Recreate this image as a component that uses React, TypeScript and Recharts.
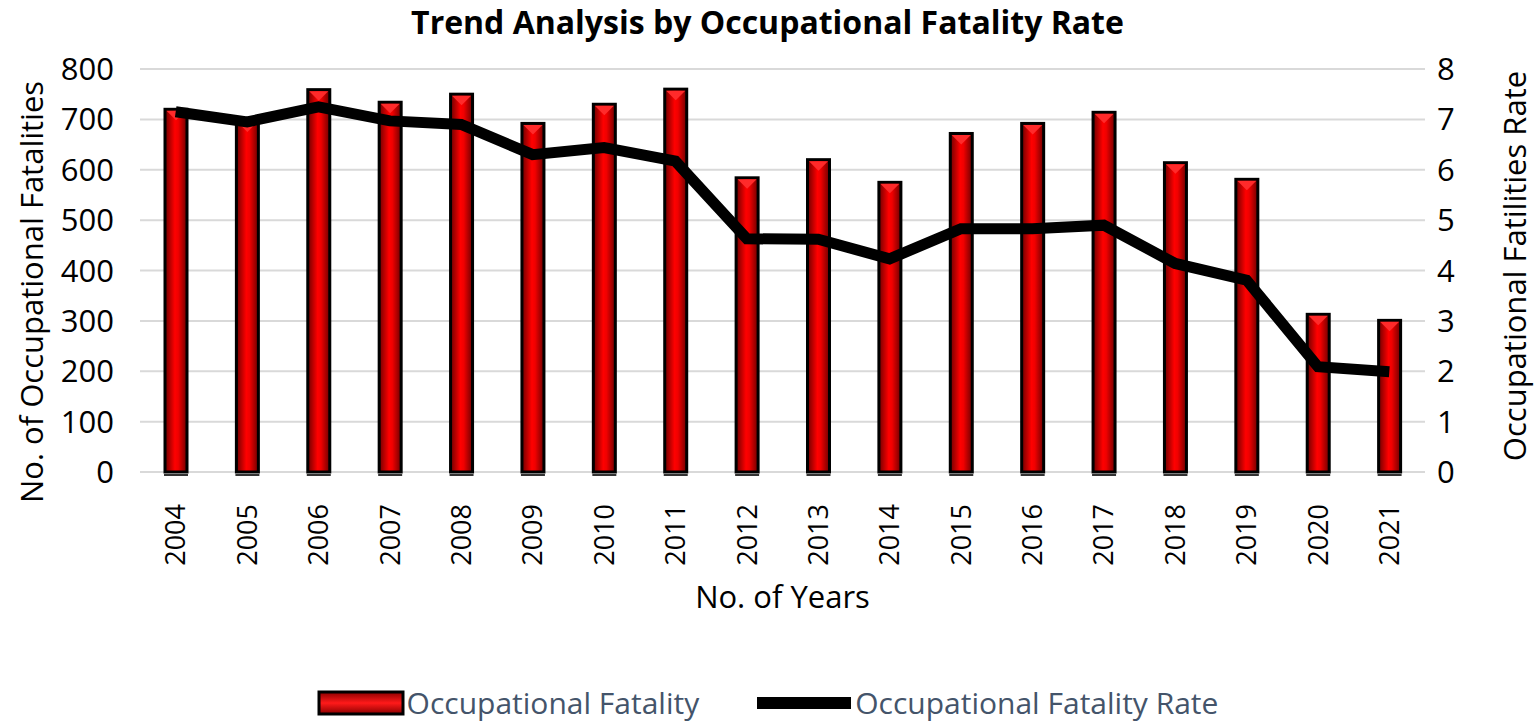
import { Bar, CartesianGrid, ComposedChart, Legend, Line, XAxis, YAxis } from "recharts";

const YEARS = ["2004", "2005", "2006", "2007", "2008", "2009", "2010", "2011", "2012", "2013", "2014", "2015", "2016", "2017", "2018", "2019", "2020", "2021"];
const FATALITIES = [720, 697, 759, 734, 750, 692, 730, 760, 584, 620, 575, 672, 692, 714, 614, 581, 313, 301];
const RATES = [7.15, 6.95, 7.25, 6.97, 6.9, 6.3, 6.44, 6.17, 4.63, 4.62, 4.23, 4.83, 4.83, 4.9, 4.14, 3.81, 2.09, 1.99];
const LEFT_TICKS = [0, 100, 200, 300, 400, 500, 600, 700, 800];
const RIGHT_TICKS = [0, 1, 2, 3, 4, 5, 6, 7, 8];

const data = YEARS.map((year, i) => ({ year, fatalities: FATALITIES[i], rate: RATES[i] }));

const FONT = "'Open Sans', 'Noto Sans', sans-serif";

function BevelBar(props: any) {
  const { x, y, width, height } = props;
  if (!height) return null;
  const t = Math.min(width / 2, height);
  return (
    <g>
      <rect x={x} y={y} width={width} height={height} fill="url(#barGrad)" stroke="#000" strokeWidth={3} />
      <polygon
        points={`${x + 1.5},${y + 1.5} ${x + width - 1.5},${y + 1.5} ${x + width / 2},${y + t}`}
        fill="#ff2a2a"
      />
      <line x1={x - 1} x2={x + width + 1} y1={y + height + 3} y2={y + height + 3} stroke="#333" strokeWidth={2} />
    </g>
  );
}

function XTick(props: any) {
  const { x, y, payload } = props;
  return (
    <text
      x={x}
      y={y + 24}
      transform={`rotate(-90 ${x} ${y + 24})`}
      textAnchor="end"
      dy="0.36em"
      fontSize={27}
      fill="#000"
      fontFamily={FONT}
    >
      {payload.value}
    </text>
  );
}

function SideLabel({ viewBox, text, dx, cy }: any) {
  const cx = viewBox.x + dx;
  return (
    <text
      x={cx}
      y={cy}
      transform={`rotate(-90 ${cx} ${cy})`}
      textAnchor="middle"
      dy="0.36em"
      fontSize={31}
      fill="#000"
      fontFamily={FONT}
    >
      {text}
    </text>
  );
}

function LegendContent() {
  const textStyle = { fontSize: 30, color: "#44546a", fontFamily: FONT, lineHeight: "40px" };
  return (
    <div style={{ display: "flex", justifyContent: "center", alignItems: "center" }}>
      <svg width={88} height={26} style={{ marginRight: 2 }}>
        <defs>
          <linearGradient id="legGrad" x1="0" y1="0" x2="0" y2="1">
            <stop offset="0%" stopColor="#8b0000" />
            <stop offset="50%" stopColor="#ff1a1a" />
            <stop offset="100%" stopColor="#8b0000" />
          </linearGradient>
        </defs>
        <rect x={2} y={2} width={84} height={22} fill="url(#legGrad)" stroke="#000" strokeWidth={3} />
      </svg>
      <span style={{ ...textStyle, marginRight: 58 }}>Occupational Fatality</span>
      <svg width={94} height={14} style={{ marginRight: 4 }}>
        <rect x={0} y={1} width={94} height={12} fill="#000" />
      </svg>
      <span style={textStyle}>Occupational Fatality Rate</span>
    </div>
  );
}

export default function App() {
  return (
    <div style={{ position: "absolute", left: 0, top: 0, width: 1535, height: 725, background: "#fff", fontFamily: FONT }}>
      <div
        style={{
          position: "absolute",
          top: 0,
          left: 0,
          width: 1535,
          textAlign: "center",
          fontSize: 32,
          fontWeight: 700,
          color: "#000",
          fontFamily: FONT,
        }}
      >
        Trend Analysis by Occupational Fatality Rate
      </div>
      <ComposedChart width={1535} height={725} data={data} margin={{ top: 69, right: 0, bottom: 2, left: 0 }}>
        <defs>
          <linearGradient id="barGrad" x1="0" y1="0" x2="1" y2="0">
            <stop offset="0%" stopColor="#6e0000" />
            <stop offset="45%" stopColor="#ff0000" />
            <stop offset="60%" stopColor="#f00000" />
            <stop offset="100%" stopColor="#6e0000" />
          </linearGradient>
        </defs>
        <CartesianGrid vertical={false} stroke="#d9d9d9" strokeWidth={2} yAxisId="left" />
        <XAxis
          dataKey="year"
          height={211}
          axisLine={false}
          tickLine={false}
          interval={0}
          tick={<XTick />}
          label={{ value: "No. of Years", position: "insideTop", offset: 114, fontSize: 31, fill: "#000", fontFamily: FONT }}
        />
        <YAxis
          yAxisId="left"
          width={140}
          domain={[0, 800]}
          ticks={LEFT_TICKS}
          axisLine={false}
          tickLine={false}
          tickMargin={20}
          tick={{ fontSize: 31, fill: "#000", fontFamily: FONT }}
          label={<SideLabel text="No. of  Occupational Fatalities" dx={32} cy={292} />}
        />
        <YAxis
          yAxisId="right"
          orientation="right"
          width={110}
          domain={[0, 8]}
          ticks={RIGHT_TICKS}
          axisLine={false}
          tickLine={false}
          tickMargin={6}
          tick={{ fontSize: 31, fill: "#000", fontFamily: FONT }}
          label={<SideLabel text="Occupational Fatilities Rate" dx={90} cy={266} />}
        />
        <Bar
          yAxisId="left"
          dataKey="fatalities"
          name="Occupational Fatality"
          barSize={22}
          shape={<BevelBar />}
          isAnimationActive={false}
        />
        <Line
          yAxisId="right"
          dataKey="rate"
          name="Occupational Fatality Rate"
          stroke="#000"
          strokeWidth={11}
          strokeLinejoin="miter"
          dot={false}
          activeDot={false}
          type="linear"
          isAnimationActive={false}
        />
        <Legend verticalAlign="bottom" height={40} content={<LegendContent />} />
      </ComposedChart>
    </div>
  );
}
